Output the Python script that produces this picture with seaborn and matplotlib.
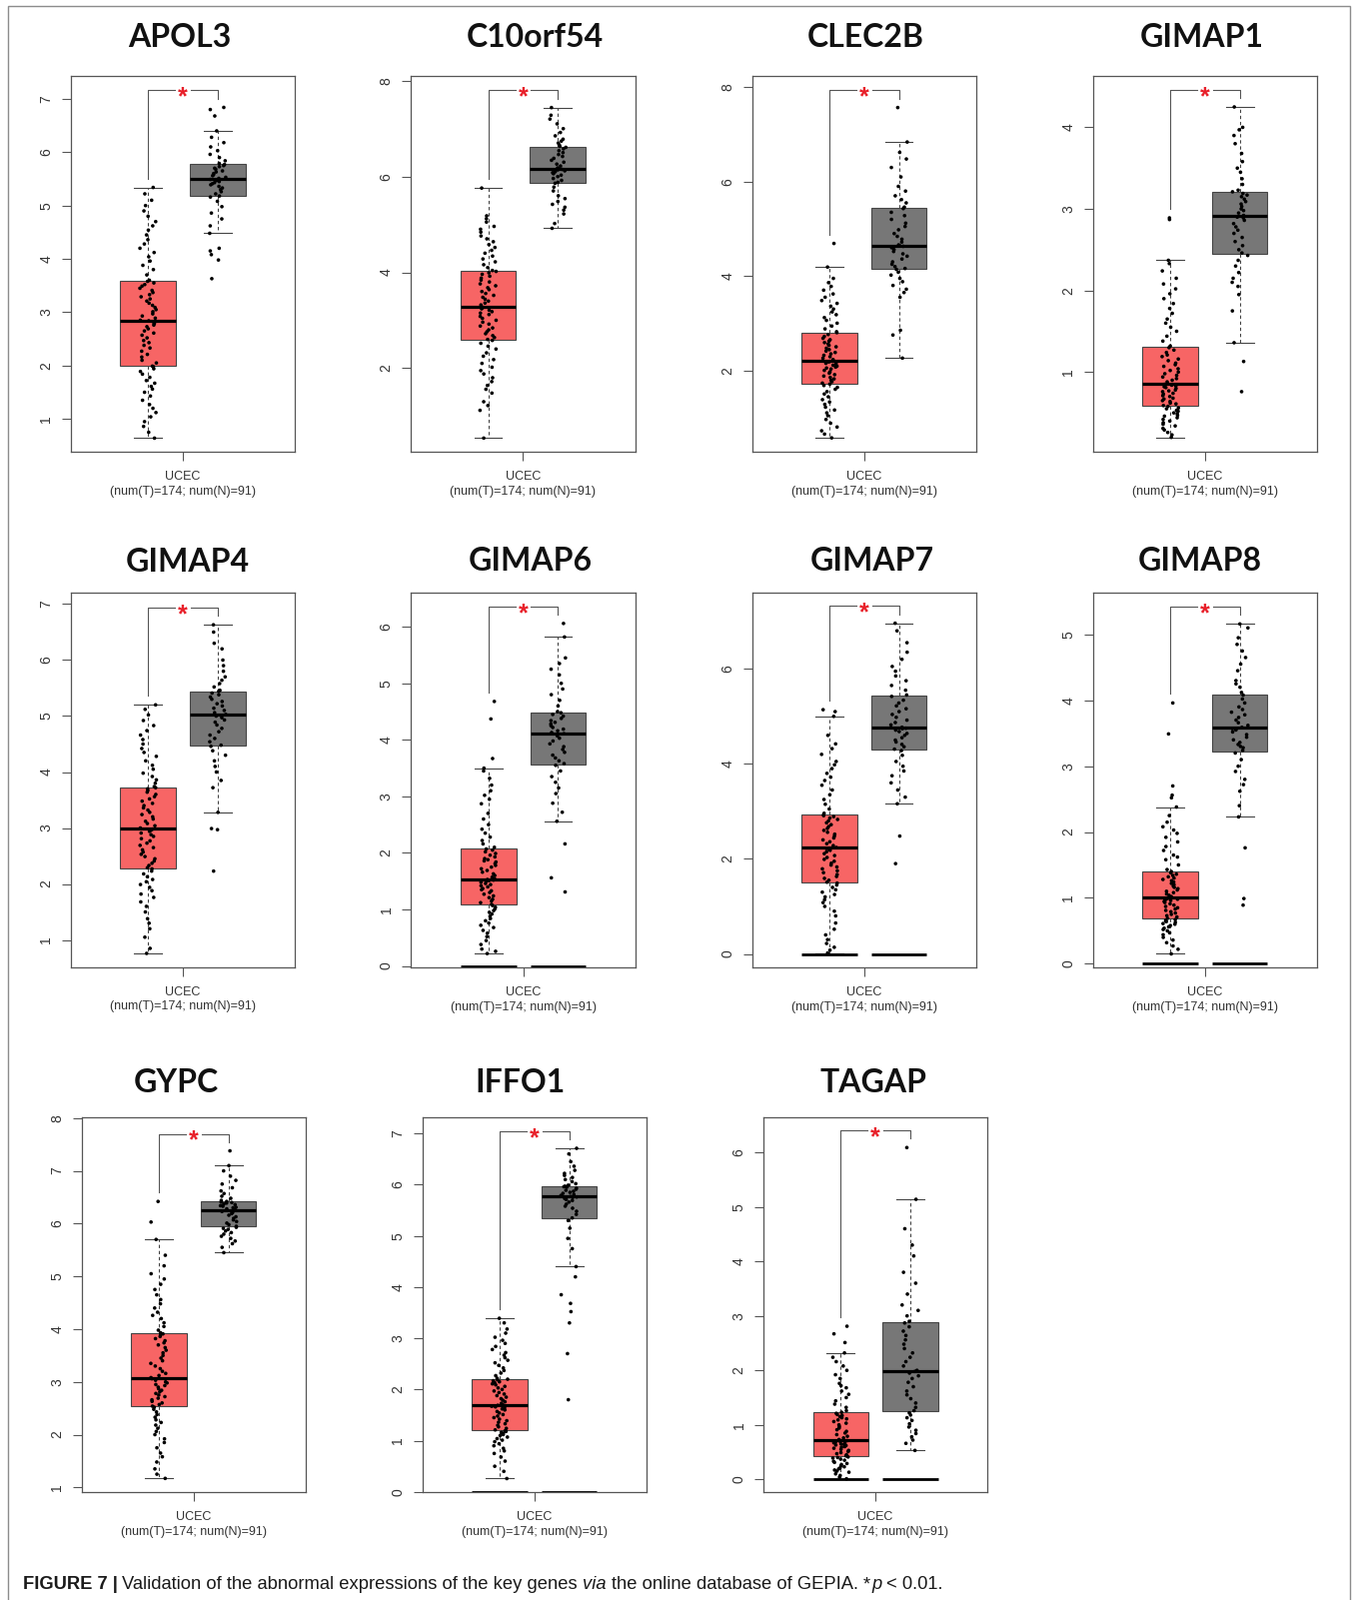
import numpy as np
import pandas as pd
import matplotlib
matplotlib.use("Agg")
import matplotlib.pyplot as plt
import seaborn as sns
from matplotlib.patches import Rectangle

# ---- data (log2(TPM+1), estimated from the GEPIA strips) ----
genes = ["APOL3", "C10orf54", "CLEC2B", "GIMAP1", "GIMAP4", "GIMAP6",
         "GIMAP7", "GIMAP8", "GYPC", "IFFO1", "TAGAP"]
cancer = "UCEC"
n_tumor, n_normal = 174, 91

tumor_expr = [
    # APOL3
    "0.64 0.75 0.86 0.95 1.04 1.12 1.2 1.27 1.35 1.43 1.5 1.56 1.61 1.67 1.72 1.78 1.84 1.89 1.94 1.98 "
    "1.99 2.05 2.1 2.16 2.21 2.27 2.33 2.38 2.43 2.47 2.52 2.57 2.61 2.65 2.69 2.73 2.76 2.79 2.82 2.84 "
    "2.85 2.89 2.93 2.97 3.01 3.05 3.09 3.13 3.17 3.21 3.25 3.29 3.33 3.37 3.41 3.45 3.49 3.52 3.55 3.58 "
    "3.6 3.7 3.8 3.88 3.96 4.04 4.12 4.2 4.28 4.36 4.45 4.54 4.62 4.7 4.8 4.9 5.0 5.1 5.22 5.34",
    # C10orf54
    "0.54 1.12 1.22 1.3 1.48 1.56 1.64 1.72 1.8 1.88 1.95 2.02 2.1 2.18 2.25 2.32 2.4 2.46 2.52 2.58 "
    "2.6 2.64 2.68 2.72 2.76 2.8 2.84 2.88 2.92 2.96 3.0 3.04 3.08 3.12 3.15 3.18 3.21 3.24 3.26 3.27 "
    "3.28 3.32 3.36 3.4 3.44 3.48 3.52 3.56 3.6 3.64 3.68 3.72 3.76 3.8 3.84 3.88 3.92 3.96 3.99 4.02 "
    "4.04 4.1 4.16 4.22 4.28 4.34 4.4 4.46 4.52 4.58 4.64 4.7 4.76 4.84 4.9 4.96 5.05 5.12 5.18 5.76",
    # CLEC2B
    "0.57 0.65 0.72 0.8 0.88 0.96 1.04 1.1 1.16 1.22 1.28 1.33 1.38 1.44 1.5 1.55 1.6 1.64 1.68 1.71 "
    "1.73 1.76 1.79 1.82 1.85 1.88 1.91 1.94 1.97 2.0 2.03 2.05 2.07 2.09 2.11 2.13 2.15 2.17 2.18 2.19 "
    "2.2 2.23 2.26 2.29 2.32 2.35 2.38 2.41 2.44 2.47 2.5 2.53 2.56 2.59 2.62 2.65 2.68 2.72 2.76 2.8 "
    "2.82 2.88 2.94 3.0 3.06 3.12 3.18 3.24 3.3 3.36 3.42 3.48 3.55 3.62 3.7 3.78 3.86 3.95 4.19 4.69",
    # GIMAP1
    "0.2 0.23 0.26 0.29 0.31 0.34 0.36 0.38 0.4 0.42 0.44 0.46 0.47 0.49 0.5 0.52 0.53 0.55 0.56 0.58 "
    "0.59 0.61 0.62 0.64 0.65 0.67 0.68 0.7 0.71 0.73 0.74 0.76 0.77 0.78 0.8 0.81 0.82 0.83 0.84 0.85 "
    "0.86 0.88 0.9 0.92 0.94 0.96 0.98 1.0 1.02 1.04 1.07 1.09 1.11 1.14 1.16 1.19 1.21 1.24 1.27 1.3 "
    "1.32 1.38 1.44 1.5 1.55 1.6 1.65 1.72 1.78 1.84 1.9 1.96 2.02 2.08 2.15 2.24 2.33 2.37 2.87 2.89",
    # GIMAP4
    "0.76 0.85 1.05 1.2 1.3 1.38 1.5 1.6 1.68 1.76 1.82 1.88 1.94 1.99 2.04 2.08 2.13 2.18 2.23 2.27 "
    "2.29 2.33 2.37 2.41 2.45 2.49 2.53 2.57 2.61 2.65 2.69 2.73 2.77 2.81 2.85 2.88 2.91 2.94 2.96 2.98 "
    "3.0 3.04 3.08 3.12 3.16 3.2 3.24 3.28 3.32 3.36 3.4 3.44 3.48 3.52 3.56 3.6 3.64 3.67 3.7 3.72 "
    "3.74 3.8 3.86 3.92 3.98 4.05 4.12 4.2 4.28 4.35 4.42 4.5 4.58 4.66 4.74 4.83 4.92 5.02 5.12 5.2",
    # GIMAP6
    "0.22 0.26 0.3 0.38 0.45 0.52 0.58 0.63 0.68 0.72 0.76 0.8 0.84 0.88 0.92 0.95 0.98 1.01 1.04 1.07 "
    "1.09 1.12 1.15 1.18 1.21 1.24 1.27 1.3 1.33 1.35 1.37 1.4 1.42 1.44 1.46 1.48 1.5 1.51 1.52 1.53 "
    "1.54 1.57 1.6 1.63 1.66 1.69 1.72 1.75 1.78 1.81 1.84 1.86 1.88 1.9 1.93 1.96 1.99 2.02 2.05 2.07 "
    "2.1 2.16 2.22 2.28 2.35 2.42 2.5 2.6 2.7 2.87 2.95 3.02 3.1 3.2 3.32 3.45 3.5 3.67 4.37 4.68",
    # GIMAP7
    "0.02 0.08 0.14 0.22 0.3 0.4 0.52 0.65 0.8 0.9 1.0 1.08 1.14 1.2 1.25 1.3 1.35 1.4 1.45 1.49 "
    "1.51 1.55 1.59 1.63 1.67 1.71 1.75 1.79 1.83 1.87 1.91 1.95 1.99 2.03 2.07 2.11 2.15 2.18 2.2 2.22 "
    "2.24 2.28 2.32 2.36 2.4 2.44 2.48 2.52 2.56 2.6 2.64 2.68 2.72 2.76 2.8 2.83 2.86 2.89 2.91 2.93 "
    "2.96 3.05 3.15 3.25 3.35 3.45 3.55 3.65 3.72 3.8 3.9 3.98 4.05 4.2 4.32 4.42 4.6 5.0 5.1 5.14",
    # GIMAP8
    "0.15 0.22 0.27 0.32 0.36 0.4 0.44 0.47 0.5 0.52 0.54 0.56 0.58 0.6 0.61 0.63 0.64 0.65 0.66 0.67 "
    "0.69 0.71 0.73 0.75 0.77 0.79 0.81 0.83 0.85 0.87 0.89 0.91 0.93 0.94 0.95 0.96 0.97 0.98 0.99 1.0 "
    "1.02 1.04 1.06 1.08 1.1 1.12 1.14 1.16 1.18 1.2 1.22 1.24 1.26 1.28 1.3 1.32 1.34 1.36 1.38 1.4 "
    "1.43 1.5 1.58 1.62 1.65 1.72 1.78 1.85 1.92 1.98 2.03 2.08 2.15 2.25 2.38 2.52 2.56 2.7 3.49 3.96",
    # GYPC
    "1.17 1.25 1.35 1.48 1.58 1.65 1.75 1.85 1.92 2.0 2.06 2.12 2.18 2.23 2.28 2.33 2.38 2.43 2.48 2.52 "
    "2.54 2.57 2.6 2.63 2.66 2.69 2.72 2.75 2.78 2.81 2.84 2.87 2.9 2.93 2.95 2.98 3.0 3.03 3.05 3.06 "
    "3.08 3.12 3.16 3.2 3.25 3.3 3.35 3.4 3.45 3.5 3.55 3.6 3.65 3.7 3.74 3.78 3.82 3.86 3.89 3.91 "
    "3.93 3.98 4.05 4.12 4.2 4.26 4.32 4.4 4.48 4.56 4.65 4.75 4.85 4.95 5.05 5.2 5.4 5.7 6.03 6.42",
    # IFFO1
    "0.26 0.4 0.5 0.6 0.68 0.75 0.8 0.85 0.9 0.94 0.98 1.01 1.04 1.07 1.1 1.12 1.14 1.16 1.18 1.19 "
    "1.21 1.24 1.27 1.3 1.33 1.36 1.39 1.42 1.45 1.48 1.51 1.54 1.57 1.6 1.62 1.64 1.66 1.67 1.68 1.69 "
    "1.7 1.73 1.76 1.79 1.82 1.85 1.88 1.91 1.94 1.97 2.0 2.03 2.06 2.09 2.11 2.13 2.15 2.17 2.19 2.2 "
    "2.22 2.27 2.32 2.37 2.42 2.47 2.52 2.57 2.62 2.67 2.72 2.78 2.84 2.9 2.96 3.02 3.1 3.18 3.3 3.39",
    # TAGAP
    "0.01 0.04 0.07 0.1 0.13 0.15 0.17 0.19 0.21 0.23 0.25 0.27 0.29 0.31 0.33 0.35 0.37 0.39 0.4 0.41 "
    "0.43 0.45 0.47 0.49 0.51 0.53 0.55 0.57 0.59 0.6 0.62 0.63 0.64 0.65 0.66 0.67 0.68 0.69 0.7 0.71 "
    "0.73 0.76 0.79 0.82 0.85 0.88 0.91 0.94 0.97 1.0 1.03 1.06 1.09 1.11 1.13 1.15 1.17 1.19 1.21 1.23 "
    "1.26 1.32 1.38 1.44 1.5 1.56 1.62 1.68 1.72 1.76 1.85 1.92 2.0 2.08 2.16 2.24 2.32 2.51 2.67 2.81",
]

normal_expr = [
    # APOL3
    "3.63 3.98 4.08 4.15 4.2 4.48 4.62 4.75 4.86 4.98 5.08 5.16 5.18 5.22 5.26 5.3 5.33 5.36 5.39 5.41 "
    "5.43 5.45 5.47 5.49 5.51 5.53 5.56 5.58 5.6 5.63 5.65 5.68 5.7 5.73 5.75 5.77 5.79 5.84 5.9 5.96 "
    "6.03 6.1 6.18 6.28 6.4 6.68 6.8 6.84",
    # C10orf54
    "4.92 5.02 5.22 5.3 5.36 5.42 5.48 5.54 5.6 5.7 5.78 5.86 5.88 5.92 5.96 6.0 6.03 6.06 6.08 6.1 "
    "6.12 6.14 6.15 6.16 6.18 6.22 6.26 6.3 6.34 6.38 6.42 6.46 6.5 6.54 6.58 6.61 6.63 6.66 6.7 6.74 "
    "6.78 6.85 6.92 7.0 7.1 7.2 7.28 7.44",
    # CLEC2B
    "2.26 2.75 2.85 3.55 3.65 3.72 3.8 3.88 3.95 4.02 4.08 4.14 4.16 4.2 4.25 4.3 4.36 4.42 4.47 4.52 "
    "4.56 4.6 4.63 4.64 4.66 4.72 4.78 4.84 4.9 4.98 5.05 5.12 5.2 5.28 5.35 5.43 5.46 5.55 5.62 5.7 "
    "5.8 5.9 6.1 6.3 6.48 6.62 6.84 7.57",
    # GIMAP1
    "0.76 1.13 1.36 1.75 1.95 2.05 2.1 2.15 2.22 2.3 2.37 2.43 2.46 2.5 2.55 2.6 2.65 2.7 2.74 2.78 "
    "2.82 2.86 2.89 2.9 2.92 2.95 2.98 3.0 3.03 3.06 3.09 3.12 3.15 3.17 3.19 3.21 3.23 3.3 3.37 3.45 "
    "3.5 3.58 3.68 3.8 3.9 3.97 4.0 4.25",
    # GIMAP4
    "2.23 2.97 2.99 3.28 3.72 3.85 4.0 4.1 4.2 4.3 4.38 4.46 4.48 4.54 4.6 4.66 4.72 4.78 4.84 4.89 "
    "4.93 4.97 5.0 5.01 5.03 5.06 5.1 5.14 5.18 5.22 5.26 5.3 5.34 5.38 5.41 5.44 5.46 5.52 5.58 5.64 "
    "5.7 5.8 5.9 6.0 6.2 6.3 6.5 6.63",
    # GIMAP6
    "1.31 1.56 2.16 2.56 2.72 2.88 3.05 3.15 3.25 3.35 3.45 3.55 3.58 3.63 3.68 3.73 3.78 3.83 3.88 3.93 "
    "3.98 4.03 4.07 4.11 4.13 4.16 4.19 4.22 4.25 4.28 4.31 4.34 4.38 4.42 4.45 4.48 4.5 4.6 4.7 4.8 "
    "4.9 5.0 5.15 5.25 5.35 5.45 5.82 6.06",
    # GIMAP7
    "1.9 2.48 3.16 3.3 3.45 3.6 3.75 3.85 3.95 4.05 4.18 4.28 4.31 4.36 4.41 4.46 4.5 4.55 4.6 4.64 "
    "4.68 4.71 4.74 4.75 4.77 4.82 4.87 4.92 4.98 5.04 5.1 5.16 5.22 5.28 5.34 5.42 5.45 5.55 5.65 5.75 "
    "5.85 5.95 6.05 6.2 6.35 6.55 6.8 6.96",
    # GIMAP8
    "0.89 0.99 1.76 2.23 2.4 2.62 2.72 2.8 2.92 3.0 3.1 3.2 3.24 3.28 3.3 3.33 3.36 3.4 3.44 3.48 "
    "3.52 3.55 3.56 3.57 3.59 3.62 3.66 3.7 3.74 3.78 3.82 3.86 3.9 3.96 4.02 4.08 4.12 4.2 4.25 4.3 "
    "4.45 4.55 4.65 4.75 4.85 4.95 5.1 5.16",
    # GYPC
    "5.45 5.55 5.62 5.67 5.72 5.76 5.8 5.83 5.86 5.89 5.91 5.93 5.95 5.98 6.01 6.04 6.07 6.1 6.13 6.16 "
    "6.19 6.21 6.23 6.24 6.26 6.28 6.3 6.31 6.33 6.34 6.36 6.37 6.39 6.4 6.41 6.42 6.44 6.48 6.52 6.57 "
    "6.62 6.68 6.75 6.82 6.9 7.0 7.1 7.38",
    # IFFO1
    "1.8 2.7 3.3 3.52 3.68 3.85 4.2 4.4 4.75 4.95 5.15 5.3 5.35 5.42 5.48 5.54 5.58 5.62 5.66 5.69 "
    "5.71 5.73 5.75 5.76 5.77 5.79 5.81 5.83 5.85 5.87 5.89 5.91 5.93 5.95 5.96 5.97 5.99 6.02 6.06 6.1 "
    "6.14 6.18 6.22 6.28 6.36 6.45 6.6 6.71",
    # TAGAP
    "0.53 0.66 0.72 0.78 0.84 0.9 0.96 1.02 1.08 1.13 1.18 1.22 1.26 1.32 1.4 1.48 1.55 1.62 1.7 1.78 "
    "1.85 1.9 1.95 1.98 2.0 2.08 2.16 2.24 2.32 2.4 2.48 2.56 2.64 2.72 2.8 2.87 2.9 3.0 3.1 3.2 "
    "3.4 3.6 3.8 4.1 4.3 4.6 5.14 6.09",
]

# genes whose GEPIA panel shows the black bar at expression 0
zero_baseline = [False, False, False, False, False, True, True, True, False, True, True]

# axis settings per panel
y_limits = [(0.38, 7.43), (0.25, 8.10), (0.27, 8.24), (0.02, 4.63), (0.51, 7.21), (-0.03, 6.61),
            (-0.29, 7.61), (-0.06, 5.64), (0.905, 8.01), (-0.01, 7.31), (-0.24, 6.64)]
y_tick_step = [1, 2, 2, 1, 1, 1, 2, 1, 1, 1, 1]

# ---- layout (pixels in the 1356x1601 canvas) ----
W, H = 1356, 1601
panel_px = [
    (70.7, 76.0, 224.6, 376.3), (410.7, 76.0, 225.3, 376.3), (752.7, 76.0, 224.3, 376.3),
    (1093.7, 76.0, 224.3, 376.3),
    (70.7, 592.7, 224.6, 375.3), (411.0, 592.7, 225.3, 375.6), (752.7, 592.7, 224.3, 375.6),
    (1093.7, 592.7, 224.3, 375.6),
    (81.7, 1118.3, 224.3, 375.0), (422.7, 1118.3, 224.3, 375.0), (764.0, 1118.3, 224.3, 375.0),
]
title_px = [(180, 47.4), (535, 47.4), (866.7, 47.4), (1202.7, 47.4),
            (188, 572.4), (530.7, 571), (873.3, 571), (1200.7, 571),
            (176.7, 1093.4), (520, 1092.5), (874.3, 1093.4)]
px_per_unit = 173.75

box_colors = {"T": "#F76565", "N": "#777777"}
dot_colors = {"T": "black", "N": "black"}
line_col = "#454545"

plt.rcParams["font.family"] = ["Liberation Sans", "DejaVu Sans"]

fig = plt.figure(figsize=(W / 100, H / 100), dpi=100)

for i, gene in enumerate(genes):
    l, t, w, h = panel_px[i]
    ax = fig.add_axes([l / W, 1 - (t + h) / H, w / W, h / H])

    tv = np.array(tumor_expr[i].split(), dtype=float)
    nv = np.array(normal_expr[i].split(), dtype=float)
    df = pd.DataFrame({
        "cancer": cancer,
        "expr": np.concatenate([tv, nv]),
        "group": ["T"] * len(tv) + ["N"] * len(nv),
    })

    sns.boxplot(data=df, x="cancer", y="expr", hue="group", hue_order=["T", "N"],
                palette=box_colors, width=0.8, gap=0.2, saturation=1, showfliers=False,
                linecolor=line_col, linewidth=0.8, legend=False, ax=ax,
                medianprops={"color": "black", "linewidth": 2.3, "zorder": 4},
                whiskerprops={"linestyle": (0, (3, 2.5))})
    sns.stripplot(data=df, x="cancer", y="expr", hue="group", hue_order=["T", "N"],
                  palette=dot_colors, dodge=True, jitter=0.095, size=2.6, linewidth=0,
                  legend=False, zorder=3, ax=ax)

    xT, xN = -0.2, 0.2
    if zero_baseline[i]:
        ax.hlines([0, 0], [xT - 0.16, xN - 0.16], [xT + 0.16, xN + 0.16],
                  colors="black", linewidth=2.0, zorder=4)

    # significance bracket
    lo = min(tv.min(), nv.min())
    hi = max(tv.max(), nv.max())
    rng = hi - lo
    top = hi + 0.052 * rng
    gap = 0.045
    ax.plot([xT, xT, -gap], [tv.max() + 0.027 * rng, top, top], color="#555555", lw=0.8)
    ax.plot([gap, xN, xN], [top, top, nv.max() + 0.027 * rng], color="#555555", lw=0.8)
    ax.annotate("*", (0, top), xytext=(0, -0.57 * 18), textcoords="offset points",
                ha="center", va="baseline", color="#E8202A", fontsize=18, fontweight="bold")

    half = w / 2 / px_per_unit
    ax.set_xlim(-half, half)
    ax.set_ylim(*y_limits[i])
    step = y_tick_step[i]
    lo_t = np.ceil(y_limits[i][0] / step) * step
    ticks = np.arange(lo_t, y_limits[i][1] + 1e-9, step)
    ax.set_yticks(ticks)
    ax.set_yticklabels([str(int(round(v))) for v in ticks])
    ax.set_xticks([0])
    ax.set_xticklabels([f"{cancer}\n(num(T)={n_tumor}; num(N)={n_normal})"],
                       fontsize=9, linespacing=1.3)
    ax.set_xlabel("")
    ax.set_ylabel("")
    ax.tick_params(axis="both", length=6.5, width=0.8, color="#555555", labelcolor="#333333")
    ax.tick_params(axis="y", labelsize=10, labelrotation=90, pad=6)
    ax.tick_params(axis="x", pad=7)
    for lab in ax.get_yticklabels():
        lab.set_va("center")
    for s in ax.spines.values():
        s.set_color("#555555")
        s.set_linewidth(0.9)

    tx, ty = title_px[i]
    fig.text(tx / W, 1 - ty / H, gene, ha="center", va="baseline", fontsize=23,
             fontweight="bold", family=["Lato", "DejaVu Sans"], color="#111111")

# outer frame of the figure panel
fig.add_artist(Rectangle((8 / W, -0.01), (1351 - 8) / W, 1.01 - 6 / H,
                         transform=fig.transFigure, fill=False, edgecolor="#8c8c8c", lw=1.0))

# caption, built run by run
cap_family = ["Liberation Sans Narrow", "Liberation Sans", "DejaVu Sans"]
cap_size = 13.2
runs = [
    ("FIGURE 7 |", {"fontweight": "bold"}, True),
    ("Validation of the abnormal expressions of the key genes", {}, True),
    ("via", {"fontstyle": "italic"}, True),
    ("the online database of GEPIA.", {}, True),
    ("*", {}, False),
    ("p", {"fontstyle": "italic"}, True),
    ("< 0.01.", {}, False),
]
renderer = fig.canvas.get_renderer()
probe_a = fig.text(0, 0, "a a", fontsize=cap_size, family=cap_family)
probe_b = fig.text(0, 0, "aa", fontsize=cap_size, family=cap_family)
space_w = probe_a.get_window_extent(renderer).width - probe_b.get_window_extent(renderer).width
probe_a.remove()
probe_b.remove()
x = 22.5
base = 1590
for text, style, space_after in runs:
    t = fig.text(x / W, 1 - base / H, text, fontsize=cap_size, family=cap_family,
                 va="baseline", ha="left", color="#1a1a1a", **style)
    x += t.get_window_extent(renderer).width + (space_w if space_after else 0.8)

fig.savefig("out.png", dpi=100)
